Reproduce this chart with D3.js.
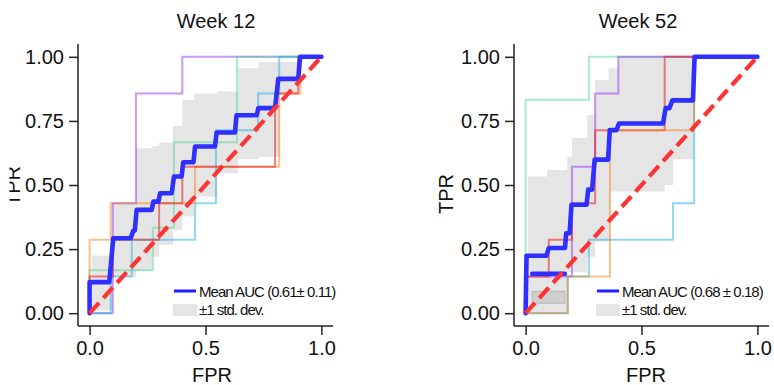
<!DOCTYPE html>
<html>
<head>
<meta charset="utf-8">
<script src="https://cdn.jsdelivr.net/npm/d3@7"></script>
<style>
  html, body { margin: 0; padding: 0; background: #fff; }
  svg { display: block; font-family: "Liberation Sans", Arial, sans-serif; }
</style>
</head>
<body>
<div id="chart"></div>
<script>
// ---- data ----
const titles = ['Week 12', 'Week 52'];
const legendMean = ['Mean AUC (0.61\u00b1 0.11)', 'Mean AUC (0.68 \u00b1 0.18)'];
const legendStd = '\u00b11 std. dev.';
const xTicks = [0, 0.5, 1];
const yTicks = [0, 0.25, 0.5, 0.75, 1];

// Week 12 folds
const w12Purple = { fpr: [0, 0.1, 0.1, 0.2, 0.2, 0.4, 0.4, 1], tpr: [0, 0, 0.429, 0.429, 0.857, 0.857, 1, 1] };
const w12Green = { fpr: [0, 0, 0.273, 0.273, 0.364, 0.364, 0.636, 0.636, 1], tpr: [0, 0.167, 0.167, 0.333, 0.333, 0.667, 0.667, 1, 1] };
const w12Cyan = { fpr: [0, 0.091, 0.091, 0.182, 0.182, 0.455, 0.455, 0.545, 0.545, 0.727, 0.727, 0.818, 0.818, 1],
                  tpr: [0, 0, 0.143, 0.143, 0.286, 0.286, 0.429, 0.429, 0.714, 0.714, 0.857, 0.857, 1, 1] };
const w12Orange = { fpr: [0, 0, 0.091, 0.091, 0.455, 0.455, 0.818, 0.818, 0.909, 0.909, 1],
                    tpr: [0, 0.286, 0.286, 0.429, 0.429, 0.571, 0.571, 0.857, 0.857, 1, 1] };
const w12Red = { fpr: [0, 0, 0.1, 0.1, 0.3, 0.3, 0.4, 0.4, 0.8, 0.8, 0.9, 0.9, 1],
                 tpr: [0, 0.143, 0.143, 0.286, 0.286, 0.429, 0.429, 0.571, 0.571, 0.857, 0.857, 1, 1] };

// Week 52 folds
const w52Green = { fpr: [0, 0, 0.273, 0.273, 1], tpr: [0, 0.833, 0.833, 1, 1] };
const w52Purple = { fpr: [0, 0, 0.2, 0.2, 0.3, 0.3, 0.4, 0.4, 1], tpr: [0, 0.143, 0.143, 0.571, 0.571, 0.857, 0.857, 1, 1] };
const w52Red = { fpr: [0, 0, 0.1, 0.1, 0.2, 0.2, 0.3, 0.3, 0.6, 0.6, 1],
                 tpr: [0, 0.143, 0.143, 0.286, 0.286, 0.429, 0.429, 0.714, 0.714, 1, 1] };
const w52Cyan = { fpr: [0, 0.182, 0.182, 0.273, 0.273, 0.636, 0.636, 0.727, 0.727, 1],
                  tpr: [0, 0, 0.143, 0.143, 0.286, 0.286, 0.429, 0.429, 1, 1] };
const w52Orange = { fpr: [0, 0.182, 0.182, 0.364, 0.364, 0.727, 0.727, 1], tpr: [0, 0, 0.143, 0.143, 0.714, 0.714, 1, 1] };

// mean curves
const w12MeanFpr = [0, 0, 0.085, 0.102, 0.177, 0.189, 0.195, 0.203, 0.268, 0.275, 0.297, 0.304, 0.354, 0.364, 0.397, 0.404,
                    0.448, 0.455, 0.541, 0.548, 0.627, 0.634, 0.721, 0.728, 0.8, 0.814, 0.9, 0.908, 1];
const w12MeanTpr = [0, 0.121, 0.121, 0.292, 0.292, 0.322, 0.322, 0.403, 0.403, 0.435, 0.435, 0.468, 0.468, 0.533, 0.533, 0.589,
                    0.589, 0.65, 0.65, 0.705, 0.705, 0.772, 0.772, 0.8, 0.8, 0.914, 0.914, 1, 1];
const w52MeanFpr = [0, 0.004, 0.09, 0.1, 0.17, 0.175, 0.19, 0.198, 0.263, 0.27, 0.287, 0.298, 0.356, 0.363, 0.392, 0.403,
                    0.593, 0.604, 0.621, 0.633, 0.722, 0.729, 1];
const w52MeanTpr = [0, 0.224, 0.224, 0.254, 0.254, 0.312, 0.312, 0.423, 0.423, 0.482, 0.482, 0.599, 0.599, 0.714, 0.714, 0.74,
                    0.74, 0.8, 0.8, 0.83, 0.83, 1, 1];
const w52MeanStub = { fpr: [0.029, 0.169], tpr: [0.154, 0.154] };
const w52ShadeBox = { fpr: [0.029, 0.169], tpr: [0.039, 0.085] };

// +/- 1 std band (step after)
const w12BandX = [0, 0.01, 0.1, 0.2, 0.27, 0.3, 0.36, 0.4, 0.45, 0.55, 0.64, 0.73, 0.82, 0.9, 1];
const w12BandUp = [0, 0.225, 0.43, 0.643, 0.652, 0.666, 0.73, 0.832, 0.857, 0.865, 0.955, 0.98, 0.98, 1, 1];
const w12BandLo = [0, 0.01, 0.14, 0.165, 0.22, 0.266, 0.325, 0.377, 0.455, 0.546, 0.6, 0.61, 0.857, 1, 1];
const w52BandX = [0, 0.01, 0.093, 0.18, 0.2, 0.266, 0.3, 0.358, 0.364, 0.4, 0.6, 0.636, 0.727, 1];
const w52BandUp = [0, 0.533, 0.559, 0.611, 0.683, 0.773, 0.91, 0.955, 0.955, 1, 1, 1, 1, 1];
const w52BandLo = [0, 0, 0, 0.16, 0.16, 0.22, 0.28, 0.28, 0.475, 0.475, 0.5, 0.6, 1, 1];

// fold colours
const foldColors = {
  purple: 'rgba(150,50,245,0.5)',
  green: 'rgba(90,215,150,0.5)',
  cyan: 'rgba(30,175,235,0.5)',
  orange: 'rgba(245,130,30,0.5)',
  red: 'rgba(232,30,30,0.55)'
};

const panels = [
  {
    title: titles[0], legend: legendMean[0], left: 78, legendX: 174, titleX: 216, fprX: 212, tprX: 20, tprY: 186, clipTpr: true,
    folds: [[w12Purple, 'purple'], [w12Green, 'green'], [w12Cyan, 'cyan'], [w12Orange, 'orange'], [w12Red, 'red']],
    meanFpr: w12MeanFpr, meanTpr: w12MeanTpr,
    bandX: w12BandX, bandUp: w12BandUp, bandLo: w12BandLo
  },
  {
    title: titles[1], legend: legendMean[1], left: 514, legendX: 597, titleX: 638, fprX: 646, tprX: 453, tprY: 194, clipTpr: false,
    folds: [[w52Green, 'green'], [w52Purple, 'purple'], [w52Red, 'red'], [w52Cyan, 'cyan'], [w52Orange, 'orange']],
    meanFpr: w52MeanFpr, meanTpr: w52MeanTpr,
    bandX: w52BandX, bandUp: w52BandUp, bandLo: w52BandLo,
    stub: w52MeanStub, box: w52ShadeBox
  }
];

const W = 774, H = 385;
const svg = d3.select('#chart').append('svg').attr('width', W).attr('height', H);

svg.append('defs').append('clipPath').attr('id', 'tprClip')
  .append('rect').attr('x', 9.5).attr('y', 0).attr('width', 100).attr('height', H);

const axisW = 255, axTop = 44, axBottom = 326;

panels.forEach(p => {
  const x = d3.scaleLinear().domain([-0.05, 1.05]).range([p.left, p.left + axisW]);
  const y = d3.scaleLinear().domain([-0.05, 1.05]).range([axBottom, axTop]);
  const g = svg.append('g');

  // std band
  const band = p.bandX.map((v, i) => ({ x: v, u: p.bandUp[i], l: p.bandLo[i] }));
  g.append('path')
    .datum(band)
    .attr('fill', '#e5e5e5')
    .attr('d', d3.area().curve(d3.curveStepAfter)
      .x(d => x(d.x)).y0(d => y(d.l)).y1(d => y(d.u)));

  if (p.box) {
    g.append('rect')
      .attr('x', x(p.box.fpr[0])).attr('y', y(p.box.tpr[1]))
      .attr('width', x(p.box.fpr[1]) - x(p.box.fpr[0]))
      .attr('height', y(p.box.tpr[0]) - y(p.box.tpr[1]))
      .attr('fill', '#cfcfcf').attr('stroke', '#bcbcbc').attr('stroke-width', 1.2);
  }

  const line = d3.line().x(d => x(d[0])).y(d => y(d[1]));

  // folds
  p.folds.forEach(([f, c]) => {
    g.append('path')
      .datum(f.fpr.map((v, i) => [v, f.tpr[i]]))
      .attr('fill', 'none')
      .attr('stroke', foldColors[c])
      .attr('stroke-width', 2)
      .attr('d', line);
  });

  // mean curve
  g.append('path')
    .datum(p.meanFpr.map((v, i) => [v, p.meanTpr[i]]))
    .attr('fill', 'none')
    .attr('stroke', '#2f2fff')
    .attr('stroke-width', 4.6)
    .attr('stroke-linejoin', 'round')
    .attr('stroke-linecap', 'round')
    .attr('d', line);

  if (p.stub) {
    g.append('path')
      .datum(p.stub.fpr.map((v, i) => [v, p.stub.tpr[i]]))
      .attr('fill', 'none')
      .attr('stroke', '#2f2fff')
      .attr('stroke-width', 4.6)
      .attr('stroke-linecap', 'round')
      .attr('d', line);
  }

  // chance diagonal
  g.append('path')
    .datum([[0, 0], [1, 1]])
    .attr('fill', 'none')
    .attr('stroke', '#ff3333')
    .attr('stroke-width', 4.2)
    .attr('stroke-dasharray', '14,6.5')
    .attr('d', line);

  // axes
  const xAxis = d3.axisBottom(x).tickValues(xTicks).tickFormat(d3.format('.1f')).tickSize(9).tickPadding(6);
  const yAxis = d3.axisLeft(y).tickValues(yTicks).tickFormat(d3.format('.2f')).tickSize(9).tickPadding(5);

  const gx = g.append('g').attr('transform', `translate(0,${axBottom})`).call(xAxis);
  const gy = g.append('g').attr('transform', `translate(${p.left},0)`).call(yAxis);
  gx.select('.domain').attr('d', `M${p.left},0H${p.left + axisW}`);
  gy.select('.domain').attr('d', `M0,${axTop}V${axBottom}`);
  [gx, gy].forEach(a => {
    a.selectAll('.domain, .tick line').attr('stroke', '#222').attr('stroke-width', 1.5);
    a.selectAll('.tick text').attr('fill', '#111').style('font-size', '20px');
  });

  // titles and axis labels
  svg.append('text')
    .attr('x', p.titleX).attr('y', 28)
    .attr('text-anchor', 'middle')
    .style('font-size', '20px').attr('fill', '#111')
    .text(p.title);

  svg.append('text')
    .attr('x', p.fprX).attr('y', 382)
    .attr('text-anchor', 'middle')
    .style('font-size', '20px').attr('fill', '#111')
    .text('FPR');

  // the left TPR label is partly hidden in the original figure
  const tprG = svg.append('g');
  if (p.clipTpr) tprG.attr('clip-path', 'url(#tprClip)');
  tprG.append('text')
    .attr('transform', `translate(${p.tprX},${p.tprY}) rotate(-90)`)
    .attr('text-anchor', 'middle')
    .style('font-size', '20px').attr('fill', '#111')
    .text('TPR');

  // legend
  const lx = p.legendX;
  const lg = svg.append('g');
  lg.append('line')
    .attr('x1', lx).attr('x2', lx + 22)
    .attr('y1', 291).attr('y2', 291)
    .attr('stroke', '#1e1eff').attr('stroke-width', 3);
  lg.append('rect')
    .attr('x', lx - 1).attr('y', 304).attr('width', 24).attr('height', 12)
    .attr('fill', '#e5e5e5');
  lg.append('text')
    .attr('x', lx + 25).attr('y', 297)
    .style('font-size', '15px').style('letter-spacing', '-0.95px').attr('fill', '#111')
    .text(p.legend);
  lg.append('text')
    .attr('x', lx + 25).attr('y', 315)
    .style('font-size', '15px').style('letter-spacing', '-1px').attr('fill', '#111')
    .text(legendStd);
});
</script>
</body>
</html>
